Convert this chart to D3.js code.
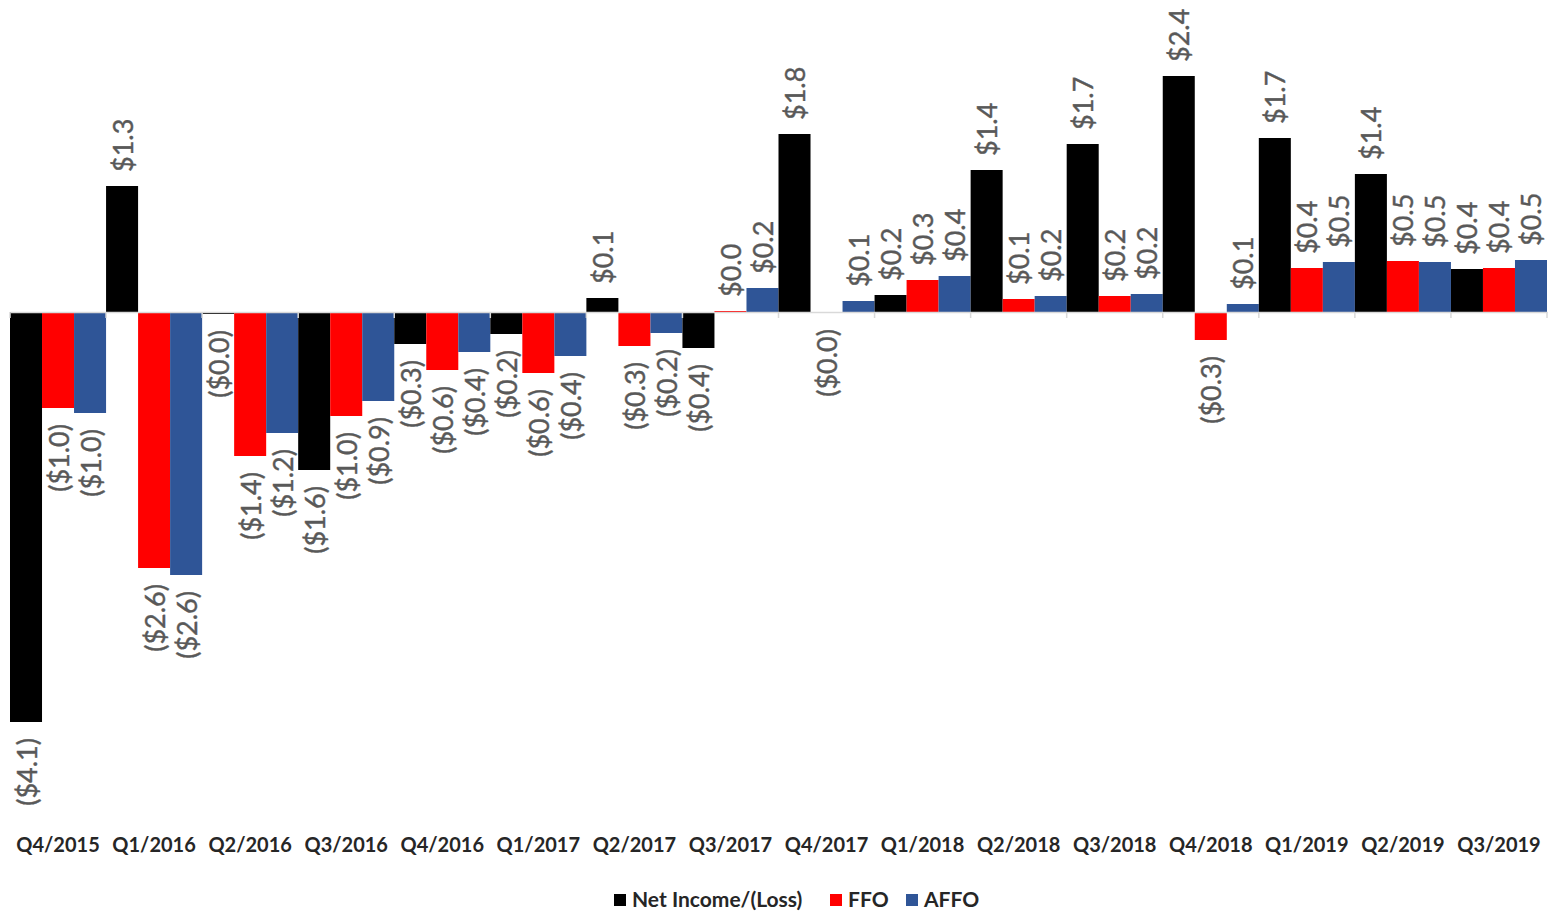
<!DOCTYPE html>
<html>
<head>
<meta charset="utf-8">
<script src="https://cdn.jsdelivr.net/npm/d3@7"></script>
<style>
  html, body { margin: 0; padding: 0; background: #fff; }
  svg { display: block; }
</style>
</head>
<body>
<svg id="chart" width="1549" height="911"></svg>
<script>
const categories = ["Q4/2015","Q1/2016","Q2/2016","Q3/2016","Q4/2016","Q1/2017","Q2/2017","Q3/2017",
                    "Q4/2017","Q1/2018","Q2/2018","Q3/2018","Q4/2018","Q1/2019","Q2/2019","Q3/2019"];
const seriesNames = ["Net Income/(Loss)", "FFO", "AFFO"];
const netIncome = [-4.10, 1.26, -0.02, -1.58, -0.32, -0.22, 0.14, -0.36, 1.78, 0.17, 1.42, 1.68, 2.36, 1.74, 1.38, 0.43];
const ffo       = [-0.96, -2.56, -1.44, -1.04, -0.58, -0.61, -0.34, 0.01, -0.01, 0.32, 0.13, 0.16, -0.28, 0.44, 0.51, 0.44];
const affo      = [-1.01, -2.63, -1.21, -0.89, -0.40, -0.44, -0.21, 0.24, 0.11, 0.36, 0.16, 0.18, 0.08, 0.50, 0.50, 0.52];
const seriesColors = ["#000000", "#ff0000", "#2f5597"];

const series = [netIncome, ffo, affo];
const svg = d3.select("#chart");

const x0 = d3.scaleBand().domain(categories).range([10, 1547]).paddingInner(0).paddingOuter(0);
const x1 = d3.scaleBand().domain(d3.range(series.length)).range([0, x0.bandwidth()]).padding(0);
const y = d3.scaleLinear().domain([-4.5, 3.0]).range([762, 12]);

const fmt = v => {
  const s = "$" + Math.abs(v).toFixed(1);
  return v < 0 ? "(" + s + ")" : s;
};

// bars
const rows = [];
categories.forEach((c, i) => {
  series.forEach((s, j) => rows.push({ c, j, v: s[i] }));
});

svg.append("g").selectAll("rect").data(rows).join("rect")
  .attr("x", d => x0(d.c) + x1(d.j))
  .attr("width", x1.bandwidth())
  .attr("y", d => Math.min(y(d.v), y(0)))
  .attr("height", d => Math.abs(y(d.v) - y(0)))
  .attr("fill", d => seriesColors[d.j]);

// zero axis line with ticks
const axisG = svg.append("g").attr("transform", `translate(0,${y(0)})`);
axisG.call(d3.axisBottom(x0).tickSize(0).tickFormat(""));
axisG.select(".domain").attr("stroke", "#d9d9d9").attr("stroke-width", 1.5);
axisG.selectAll(".b").data(d3.range(categories.length + 1)).join("line")
  .attr("x1", i => 10 + i * x0.step()).attr("x2", i => 10 + i * x0.step())
  .attr("y1", 0).attr("y2", 6)
  .attr("stroke", "#d9d9d9").attr("stroke-width", 1.5);

// value labels (rotated)
svg.append("g").selectAll("text").data(rows).join("text")
  .attr("transform", d => {
    const cx = x0(d.c) + x1(d.j) + x1.bandwidth() / 2;
    const yy = d.v >= 0 ? y(d.v) - 14 : y(d.v) + 16;
    return `translate(${cx},${yy}) rotate(-90)`;
  })
  .attr("text-anchor", d => d.v >= 0 ? "start" : "end")
  .attr("dominant-baseline", "central")
  .attr("font-family", "Lato, 'Open Sans', sans-serif")
  .attr("font-size", 27)
  .attr("fill", "#595959")
  .attr("stroke", "#595959")
  .attr("stroke-width", 0.4)
  .text(d => fmt(d.v));

// category labels
svg.append("g").selectAll("text").data(categories).join("text")
  .attr("x", d => x0(d) + x0.bandwidth() / 2)
  .attr("y", 852)
  .attr("text-anchor", "middle")
  .attr("font-family", "Lato, 'Open Sans', sans-serif")
  .attr("font-weight", "bold")
  .attr("font-size", 20)
  .attr("fill", "#262626")
  .text(d => d);

// legend
const legendX = [614, 830, 906];
const lg = svg.append("g");
seriesNames.forEach((n, j) => {
  lg.append("rect").attr("x", legendX[j]).attr("y", 894).attr("width", 12).attr("height", 12)
    .attr("fill", seriesColors[j]);
  lg.append("text").attr("x", legendX[j] + 18).attr("y", 907)
    .attr("font-family", "Lato, 'Open Sans', sans-serif")
    .attr("font-weight", "bold").attr("font-size", 21).attr("fill", "#262626")
    .text(n);
});
</script>
</body>
</html>
